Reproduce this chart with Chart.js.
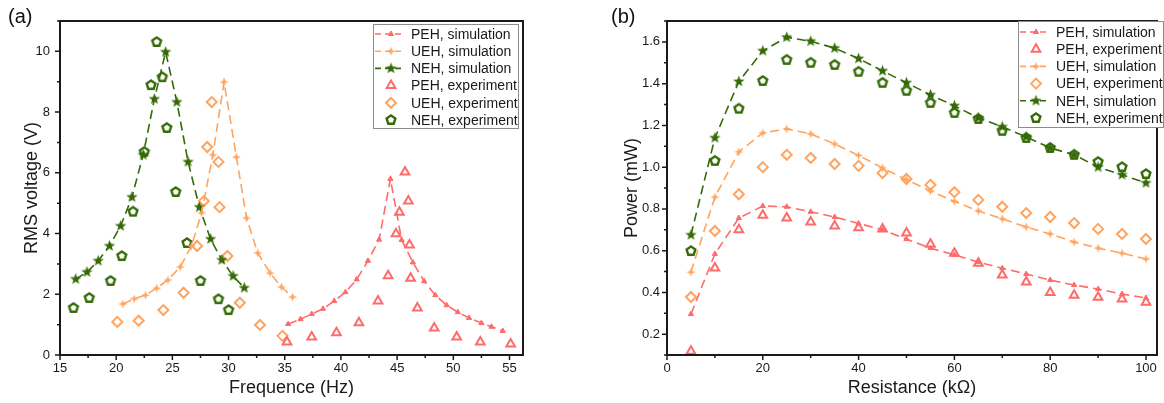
<!DOCTYPE html>
<html>
<head>
<meta charset="utf-8">
<script src="https://cdn.jsdelivr.net/npm/chart.js@4.4.0/dist/chart.umd.min.js"></script>
<style>
	html, body { margin: 0; padding: 0; background: #fff; }
	#wrap { position: relative; width: 1164px; height: 403px; overflow: hidden;
		font-family: "Liberation Sans", Arial, sans-serif; }
	canvas { position: absolute; top: 0; }
	#chartA { left: 0; }
	#chartB { left: 590px; }
	.panel { position: absolute; top: 6px; font-size: 20px; line-height: 1; color: #111; }
</style>
</head>
<body>
<div id="wrap">
	<canvas id="chartA" width="540" height="403"></canvas>
	<canvas id="chartB" width="574" height="403"></canvas>
	<div class="panel" style="left: 8px;">(a)</div>
	<div class="panel" style="left: 611px;">(b)</div>
</div>
<script>

//
// panel (a): RMS voltage against frequency
//

const pehSimFreq = [35.3, 36.4, 37.4, 38.4, 39.4, 40.4, 41.4, 42.4, 43.4, 44.4, 45.4, 46.4, 47.4, 48.4, 49.4, 50.4, 51.4, 52.5, 53.4, 54.4];
const pehSimVolt = [1.02, 1.18, 1.35, 1.52, 1.78, 2.07, 2.49, 3.10, 3.80, 5.80, 3.79, 3.05, 2.43, 1.97, 1.64, 1.41, 1.22, 1.05, 0.93, 0.79];
const uehSimFreq = [20.6, 21.6, 22.6, 23.6, 24.6, 25.7, 26.7, 27.6, 28.6, 29.6, 30.7, 31.6, 32.6, 33.7, 34.7, 35.7];
const uehSimVolt = [1.68, 1.85, 1.97, 2.20, 2.47, 2.90, 3.59, 4.68, 6.59, 8.99, 6.52, 4.51, 3.36, 2.70, 2.24, 1.91];
const nehSimFreq = [16.4, 17.4, 18.4, 19.4, 20.4, 21.4, 22.4, 23.4, 24.4, 25.4, 26.4, 27.4, 28.4, 29.4, 30.4, 31.4];
const nehSimVolt = [2.50, 2.73, 3.10, 3.59, 4.25, 5.20, 6.59, 8.43, 9.98, 8.33, 6.36, 4.87, 3.82, 3.13, 2.60, 2.21];

const pehExpFreq = [35.2, 37.4, 39.6, 41.6, 43.3, 44.2, 44.9, 45.2, 45.7, 46.0, 46.1, 46.2, 46.8, 48.3, 50.3, 52.4, 55.1];
const pehExpVolt = [0.43, 0.59, 0.73, 1.06, 1.78, 2.61, 3.99, 4.70, 6.03, 5.07, 3.62, 2.53, 1.55, 0.89, 0.59, 0.43, 0.36];
const uehExpFreq = [20.1, 22.0, 24.2, 26.0, 27.2, 27.8, 28.1, 28.5, 29.1, 29.2, 29.9, 31.0, 32.8, 34.8];
const uehExpVolt = [1.09, 1.13, 1.48, 2.05, 3.59, 5.07, 6.85, 8.33, 6.36, 4.87, 3.26, 1.72, 0.99, 0.63];
const nehExpFreq = [16.2, 17.6, 19.5, 20.5, 21.5, 22.5, 23.1, 23.6, 24.1, 24.5, 25.3, 26.3, 27.5, 29.1, 30.0];
const nehExpVolt = [1.55, 1.88, 2.44, 3.26, 4.72, 6.69, 8.89, 10.31, 9.15, 7.48, 5.37, 3.69, 2.44, 1.84, 1.48];

const freqTicks = [15, 20, 25, 30, 35, 40, 45, 50, 55];
const voltTicks = [0, 2, 4, 6, 8, 10];

//
// panel (b): power against load resistance
//

const resistance = [5, 10, 15, 20, 25, 30, 35, 40, 45, 50, 55, 60, 65, 70, 75, 80, 85, 90, 95, 100];
const pehSimPower = [0.296, 0.584, 0.756, 0.814, 0.810, 0.786, 0.761, 0.730, 0.700, 0.655, 0.612, 0.580, 0.545, 0.516, 0.488, 0.459, 0.435, 0.416, 0.392, 0.373];
const pehExpPower = [0.118, 0.517, 0.700, 0.770, 0.756, 0.737, 0.718, 0.709, 0.704, 0.684, 0.630, 0.588, 0.540, 0.483, 0.450, 0.400, 0.386, 0.377, 0.368, 0.353];
const uehSimPower = [0.497, 0.857, 1.073, 1.164, 1.183, 1.159, 1.111, 1.056, 0.996, 0.940, 0.886, 0.836, 0.790, 0.752, 0.713, 0.680, 0.641, 0.612, 0.588, 0.560];
const uehExpPower = [0.378, 0.694, 0.870, 1.000, 1.059, 1.044, 1.015, 1.006, 0.972, 0.943, 0.915, 0.880, 0.843, 0.810, 0.780, 0.761, 0.732, 0.704, 0.680, 0.656];
const nehSimPower = [0.675, 1.140, 1.410, 1.557, 1.622, 1.603, 1.570, 1.520, 1.461, 1.404, 1.346, 1.294, 1.236, 1.193, 1.145, 1.092, 1.059, 1.000, 0.963, 0.924];
const nehExpPower = [0.598, 1.030, 1.280, 1.413, 1.514, 1.500, 1.490, 1.457, 1.404, 1.366, 1.308, 1.260, 1.231, 1.174, 1.140, 1.092, 1.059, 1.025, 1.000, 0.967];

const resTicks = [0, 20, 40, 60, 80, 100];
const powerTicks = [0.2, 0.4, 0.6, 0.8, 1.0, 1.2, 1.4, 1.6];

//
// styles
//

const RED = '#ff6b6b';
const ORANGE = '#ffa45f';
const GREEN = '#356a06';
const INK = '#1a1a1a';

Chart.defaults.font.family = '"Liberation Sans", Arial, sans-serif';
Chart.defaults.color = INK;

function pairs(xs, ys) {
	return xs.map((x, i) => ({x: x, y: ys[i]}));
}

// small canvases used as point styles
//
function makeMarker(size, draw) {
	let c = document.createElement('canvas');
	c.width = size;
	c.height = size;
	draw(c.getContext('2d'), size / 2);
	return c;
}

function polyPath(ctx, c, n, outer, inner) {
	ctx.beginPath();
	let steps = inner ? n * 2 : n;
	for (let i = 0; i < steps; i++) {
		let r = (inner && i % 2) ? inner : outer;
		let a = -Math.PI / 2 + i * 2 * Math.PI / steps;
		ctx.lineTo(c + r * Math.cos(a), c + r * Math.sin(a));
	}
	ctx.closePath();
}

const starMark = makeMarker(13, function(ctx, c) {
	polyPath(ctx, c, 5, 6, 2.5);
	ctx.fillStyle = GREEN;
	ctx.fill();
});
const pentagonMark = makeMarker(14, function(ctx, c) {
	polyPath(ctx, c, 5, 4.6);
	ctx.lineWidth = 2.4;
	ctx.strokeStyle = GREEN;
	ctx.stroke();
});
const crossMark = makeMarker(11, function(ctx, c) {
	polyPath(ctx, c, 4, 4.5, 1.6);
	ctx.fillStyle = ORANGE;
	ctx.fill();
});

function simSet(label, data, color, style, radius) {
	return {
		label: label,
		data: data,
		showLine: true,
		borderColor: color,
		backgroundColor: color,
		borderWidth: 1.6,
		borderDash: [9, 5],
		pointStyle: style,
		pointRadius: radius,
		pointHoverRadius: radius,
		pointBorderWidth: 1
	};
}

function expSet(label, data, color, style, radius) {
	return {
		label: label,
		data: data,
		showLine: false,
		borderColor: color,
		backgroundColor: 'rgba(0,0,0,0)',
		pointStyle: style,
		pointRadius: radius,
		pointHoverRadius: radius,
		pointBorderWidth: 2
	};
}

//
// plugins
//

// frame round the plot with outward major and minor ticks
//
const axisFrame = {
	id: 'axisFrame',
	afterDraw: function(chart, args, opts) {
		const ctx = chart.ctx;
		const a = chart.chartArea;
		const sx = chart.scales.x;
		const sy = chart.scales.y;

		ctx.save();
		ctx.strokeStyle = INK;
		ctx.lineWidth = 1.5;
		ctx.beginPath();
		for (let k = Math.ceil(sx.min / opts.xMinor - 1e-6); k * opts.xMinor <= sx.max + 1e-6; k++) {
			let v = k * opts.xMinor;
			let major = sx.ticks.some(t => Math.abs(t.value - v) < 1e-6);
			let px = sx.getPixelForValue(v);
			ctx.moveTo(px, a.bottom);
			ctx.lineTo(px, a.bottom + (major ? 5 : 3));
		}
		for (let k = Math.ceil(sy.min / opts.yMinor - 1e-6); k * opts.yMinor <= sy.max + 1e-6; k++) {
			let v = k * opts.yMinor;
			let major = sy.ticks.some(t => Math.abs(t.value - v) < 1e-6);
			let py = sy.getPixelForValue(v);
			ctx.moveTo(a.left, py);
			ctx.lineTo(a.left - (major ? 5 : 3), py);
		}
		ctx.stroke();

		ctx.lineWidth = 2;
		ctx.strokeRect(a.left, a.top, a.right - a.left, a.bottom - a.top);
		ctx.restore();
	}
};

// legend drawn inside the plot
//
const boxLegend = {
	id: 'boxLegend',
	afterDraw: function(chart, args, opts) {
		const ctx = chart.ctx;
		ctx.save();
		ctx.fillStyle = '#fff';
		ctx.fillRect(opts.x, opts.y, opts.w, opts.h);
		ctx.strokeStyle = '#8c8c8c';
		ctx.lineWidth = 1;
		ctx.strokeRect(opts.x + 0.5, opts.y + 0.5, opts.w - 1, opts.h - 1);

		opts.order.forEach(function(index, row) {
			const ds = chart.data.datasets[index];
			const y = opts.y + opts.first + row * opts.step;
			if (ds.showLine) {
				ctx.save();
				ctx.strokeStyle = ds.borderColor;
				ctx.lineWidth = ds.borderWidth;
				ctx.setLineDash([6, 4]);
				ctx.beginPath();
				ctx.moveTo(opts.x + 2, y);
				ctx.lineTo(opts.x + 30, y);
				ctx.stroke();
				ctx.restore();
			}
			ctx.fillStyle = ds.showLine ? ds.backgroundColor : 'rgba(0,0,0,0)';
			ctx.strokeStyle = ds.borderColor;
			ctx.lineWidth = ds.pointBorderWidth;
			Chart.helpers.drawPoint(ctx, {
				pointStyle: ds.pointStyle,
				radius: ds.pointRadius,
				borderWidth: ds.pointBorderWidth,
				rotation: 0
			}, opts.x + 18, y);

			ctx.fillStyle = INK;
			ctx.font = '14px "Liberation Sans", Arial, sans-serif';
			ctx.textBaseline = 'middle';
			ctx.textAlign = 'left';
			ctx.fillText(ds.label, opts.x + 38, y + 1);
		});
		ctx.restore();
	}
};

function axis(options) {
	return {
		type: 'linear',
		min: options.min,
		max: options.max,
		grid: { display: false, drawTicks: false, tickLength: 0 },
		border: { display: false },
		afterBuildTicks: function(scale) {
			scale.ticks = options.ticks.map(v => ({value: v}));
		},
		afterFit: options.fit,
		ticks: {
			padding: options.padding,
			autoSkip: false,
			maxRotation: 0,
			color: INK,
			font: { size: 13 },
			callback: options.format
		},
		title: {
			display: true,
			text: options.title,
			color: INK,
			font: { size: 18 },
			padding: options.titlePadding
		}
	};
}

//
// panel (a)
//

new Chart(document.getElementById('chartA'), {
	type: 'scatter',
	data: {
		datasets: [
			simSet('PEH, simulation', pairs(pehSimFreq, pehSimVolt), RED, 'triangle', 3),
			simSet('UEH, simulation', pairs(uehSimFreq, uehSimVolt), ORANGE, crossMark, 4),
			simSet('NEH, simulation', pairs(nehSimFreq, nehSimVolt), GREEN, starMark, 5),
			expSet('PEH, experiment', pairs(pehExpFreq, pehExpVolt), RED, 'triangle', 5),
			expSet('UEH, experiment', pairs(uehExpFreq, uehExpVolt), ORANGE, 'rectRot', 5),
			expSet('NEH, experiment', pairs(nehExpFreq, nehExpVolt), GREEN, pentagonMark, 5)
		]
	},
	options: {
		responsive: false,
		animation: false,
		events: [],
		layout: { padding: { left: 0, right: 17, top: 21, bottom: 0 } },
		plugins: {
			legend: { display: false },
			tooltip: { enabled: false },
			axisFrame: { xMinor: 2.5, yMinor: 1 },
			boxLegend: { x: 373, y: 24, w: 146, h: 105, first: 10, step: 17.2, order: [0, 1, 2, 3, 4, 5] }
		},
		scales: {
			x: axis({
				min: 15, max: 56.2, ticks: freqTicks, padding: 6,
				format: v => String(v),
				title: 'Frequence (Hz)', titlePadding: { top: 0, bottom: 4 },
				fit: s => { s.height = 48; }
			}),
			y: axis({
				min: 0, max: 11, ticks: voltTicks, padding: 10,
				format: v => String(v),
				title: 'RMS voltage (V)', titlePadding: { top: 21, bottom: 0 },
				fit: s => { s.width = 60; }
			})
		}
	},
	plugins: [axisFrame, boxLegend]
});

//
// panel (b)
//

new Chart(document.getElementById('chartB'), {
	type: 'scatter',
	data: {
		datasets: [
			simSet('PEH, simulation', pairs(resistance, pehSimPower), RED, 'triangle', 3),
			expSet('PEH, experiment', pairs(resistance, pehExpPower), RED, 'triangle', 5),
			simSet('UEH, simulation', pairs(resistance, uehSimPower), ORANGE, crossMark, 4),
			expSet('UEH, experiment', pairs(resistance, uehExpPower), ORANGE, 'rectRot', 5),
			simSet('NEH, simulation', pairs(resistance, nehSimPower), GREEN, starMark, 5),
			expSet('NEH, experiment', pairs(resistance, nehExpPower), GREEN, pentagonMark, 5)
		]
	},
	options: {
		responsive: false,
		animation: false,
		events: [],
		layout: { padding: { left: 0, right: 1, top: 21, bottom: 0 } },
		plugins: {
			legend: { display: false },
			tooltip: { enabled: false },
			axisFrame: { xMinor: 10, yMinor: 0.1 },
			boxLegend: { x: 428, y: 21, w: 146, h: 107, first: 11, step: 17.2, order: [0, 1, 2, 3, 4, 5] }
		},
		scales: {
			x: axis({
				min: 0, max: 102.3, ticks: resTicks, padding: 6,
				format: v => String(v),
				title: 'Resistance (k\u03a9)', titlePadding: { top: 0, bottom: 4 },
				fit: s => { s.height = 48; }
			}),
			y: axis({
				min: 0.1, max: 1.7, ticks: powerTicks, padding: 7,
				format: v => v.toFixed(1),
				title: 'Power (mW)', titlePadding: { top: 31, bottom: 0 },
				fit: s => { s.width = 77; }
			})
		}
	},
	plugins: [axisFrame, boxLegend]
});

</script>
</body>
</html>
